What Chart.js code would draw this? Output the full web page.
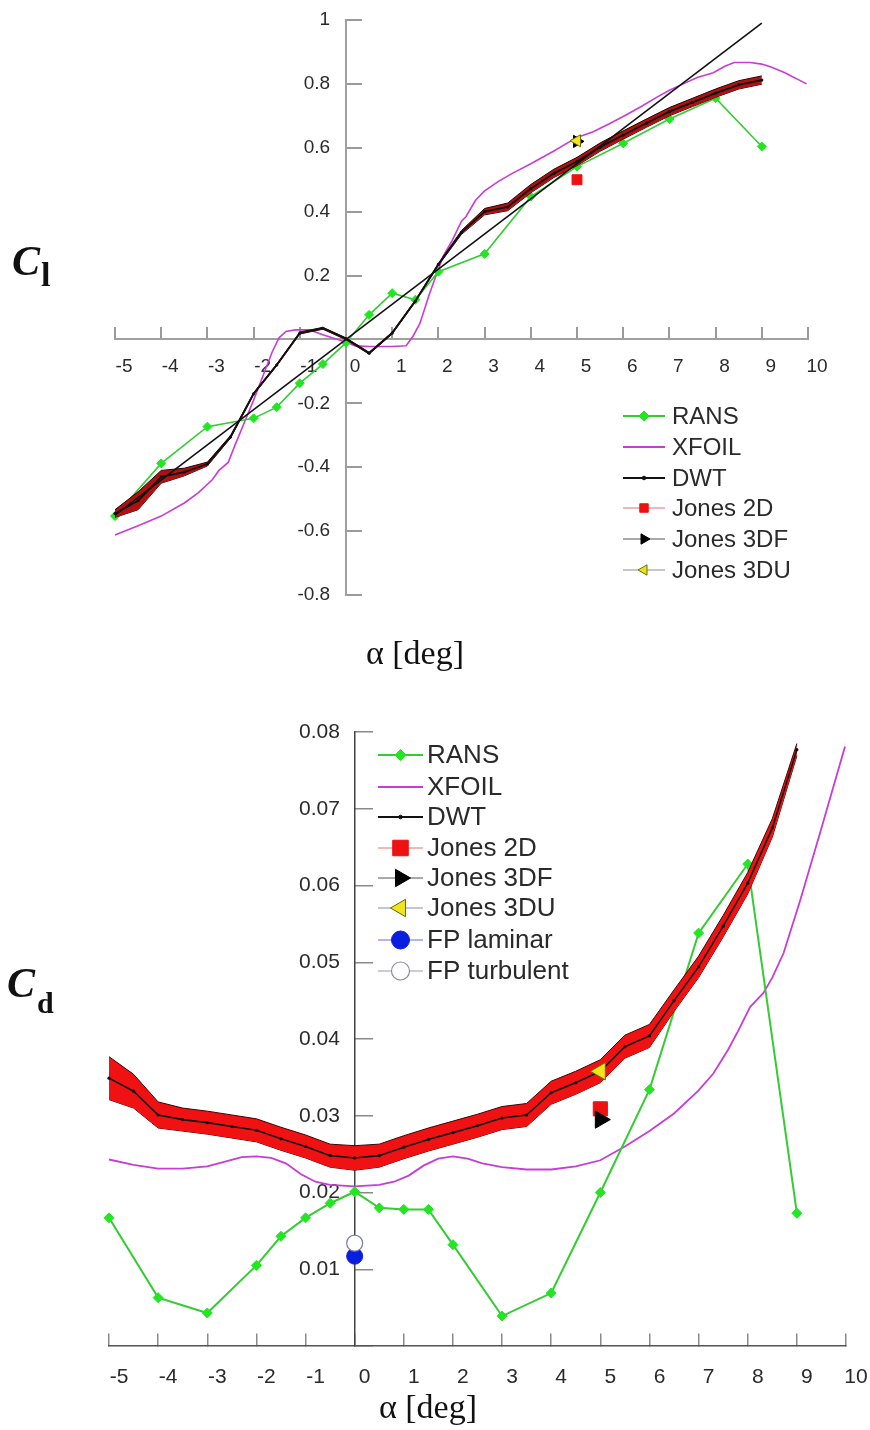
<!DOCTYPE html>
<html><head><meta charset="utf-8">
<script src="https://cdn.jsdelivr.net/npm/chart.js@4.4.1/dist/chart.umd.min.js"></script>
<style>
html,body{margin:0;padding:0;background:#fff;}
body{width:870px;height:1430px;position:relative;overflow:hidden;}
canvas{position:absolute;left:0;}
#c1{top:0;width:870px;height:690px;}
#c2{top:690px;width:900px;height:740px;}
</style></head><body>
<canvas id="c1" width="870" height="690"></canvas>
<canvas id="c2" width="900" height="740"></canvas>
<script>
// ---------------- tick values / labels ----------------
const xTicks = [-5,-4,-3,-2,-1,0,1,2,3,4,5,6,7,8,9,10];
const xTickLabels = ['-5','-4','-3','-2','-1','0','1','2','3','4','5','6','7','8','9','10'];
const clTicks = [-0.8,-0.6,-0.4,-0.2,0,0.2,0.4,0.6,0.8,1];
const clTickLabels = ['-0.8','-0.6','-0.4','-0.2','','0.2','0.4','0.6','0.8','1'];
const cdTicks = [0,0.01,0.02,0.03,0.04,0.05,0.06,0.07,0.08];
const cdTickLabels = ['','0.01','0.02','0.03','0.04','0.05','0.06','0.07','0.08'];

// ---------------- RANS ----------------
const ransAlpha = [-5,-4,-3,-2,-1.5,-1,-0.5,0,0.5,1,1.5,2,3,4,5,6,7,8,9];
const ransCl = [-0.553,-0.388,-0.273,-0.247,-0.212,-0.137,-0.077,-0.01,0.077,0.145,0.124,0.212,0.268,0.447,0.541,0.614,0.69,0.755,0.604];
const ransCd = [0.0167,0.0063,0.0043,0.0105,0.0143,0.0167,0.0186,0.0201,0.0180,0.0178,0.0178,0.0132,0.0039,0.0069,0.0200,0.0334,0.0538,0.0628,0.0173];

// ---------------- DWT (with uncertainty band) ----------------
const dwtAlpha = [-5,-4.5,-4,-3.5,-3,-2.5,-2,-1.5,-1,-0.5,0,0.5,1,1.5,2,2.5,3,3.5,4,4.5,5,5.5,6,6.5,7,7.5,8,8.5,9];
const dwtCl = [-0.545,-0.505,-0.43,-0.415,-0.39,-0.305,-0.17,-0.08,0.02,0.035,0.002,-0.043,0.02,0.12,0.235,0.335,0.40,0.415,0.472,0.52,0.557,0.602,0.64,0.677,0.713,0.742,0.771,0.797,0.812];
const dwtClErr = [0.012,0.028,0.02,0.012,0.006,0.004,0.003,0.003,0.003,0.003,0.003,0.003,0.003,0.003,0.003,0.006,0.01,0.012,0.013,0.013,0.013,0.013,0.013,0.013,0.013,0.013,0.013,0.013,0.013];
const dwtCd = [0.0349,0.0332,0.0301,0.0295,0.0291,0.0286,0.0281,0.0270,0.0260,0.0248,0.0245,0.0248,0.0259,0.0269,0.0278,0.0287,0.0297,0.0301,0.0330,0.0343,0.0358,0.0390,0.0404,0.0450,0.0494,0.0547,0.0603,0.0675,0.0777];
const dwtCdErr = [0.0028,0.0022,0.0017,0.0015,0.0015,0.0015,0.0015,0.0015,0.0015,0.0015,0.0016,0.0015,0.0015,0.0015,0.0015,0.0015,0.0015,0.0015,0.0015,0.0015,0.0015,0.0015,0.0015,0.0014,0.0014,0.0014,0.0014,0.0012,0.0008];

// ---------------- XFOIL ----------------
const xfoilClAlpha = [-5,-4.5,-4,-3.5,-3.2,-2.9,-2.75,-2.55,-2.4,-2.2,-2,-1.8,-1.6,-1.45,-1.3,-1.1,-0.8,-0.5,-0.3,0,0.2,0.5,1,1.3,1.45,1.6,1.8,1.95,2.1,2.3,2.5,2.6,2.8,3,3.3,3.6,4,4.5,4.85,5,5.35,5.7,6,6.4,6.75,7,7.3,7.6,7.95,8.2,8.4,8.75,9,9.2,9.5,9.97];
const xfoilCl = [-0.612,-0.583,-0.553,-0.512,-0.48,-0.44,-0.41,-0.385,-0.33,-0.26,-0.19,-0.115,-0.04,0.005,0.025,0.03,0.03,0.015,0.005,-0.008,-0.02,-0.022,-0.022,-0.02,0.01,0.05,0.14,0.2,0.26,0.31,0.37,0.385,0.435,0.465,0.495,0.52,0.55,0.59,0.62,0.632,0.65,0.675,0.698,0.73,0.76,0.78,0.80,0.82,0.835,0.855,0.867,0.867,0.862,0.853,0.835,0.80];
const xfoilCdAlpha = [-5,-4.5,-4,-3.5,-3,-2.6,-2.3,-2,-1.7,-1.4,-1.1,-0.8,-0.5,0,0.5,0.8,1.1,1.4,1.7,2,2.3,2.6,3,3.5,4,4.5,5,5.5,6,6.5,7,7.3,7.6,7.8,8.05,8.2,8.32,8.5,8.73,9.07,9.47,9.98];
const xfoilCd = [0.0243,0.0236,0.0231,0.0231,0.0234,0.0241,0.0246,0.0247,0.0245,0.0238,0.0224,0.0214,0.0210,0.0208,0.0210,0.0214,0.0222,0.0235,0.0244,0.0247,0.0244,0.0238,0.0233,0.0230,0.0230,0.0234,0.0242,0.0260,0.0280,0.0303,0.0333,0.0355,0.0386,0.0410,0.0442,0.0452,0.0460,0.0480,0.0512,0.0581,0.0668,0.0781];

// ---------------- thin line (no legend) ----------------
const thinAlpha = [-5, 9];
const thinCl = [-0.55, 0.99];

// ---------------- Jones / flat plate ----------------
const jonesAlpha = [5];
const jones2DCl = [0.50];
const jones3DFCl = [0.62];
const jones3DUCl = [0.622];
const jones2DCd = [0.0309];
const jones3DFCd = [0.0295];
const jones3DUCd = [0.0358];
const fpAlpha = [0];
const fpLaminarCd = [0.0117];
const fpTurbulentCd = [0.0134];

// ---------------- helpers ----------------
const pts = (xs, ys) => xs.map((x, i) => ({x: x, y: ys[i]}));
const band = (xs, ys, es, s) => xs.map((x, i) => ({x: x, y: ys[i] + s * es[i]}));

function markerPath(ctx, style, r, rot, x, y) {
  if (Chart.helpers && Chart.helpers.drawPoint) {
    Chart.helpers.drawPoint(ctx, {pointStyle: style, rotation: rot || 0, radius: r, borderWidth: ctx.lineWidth}, x, y);
    return;
  }
  ctx.beginPath(); ctx.arc(x, y, r, 0, Math.PI * 2); ctx.fill(); ctx.stroke();
}

const legendPlugin = {
  id: 'inLegend',
  afterDraw(chart, args, o) {
    const ctx = chart.ctx;
    ctx.save();
    const items = chart.data.datasets.filter(d => d.legendText);
    items.sort((a, b) => a.legendRank - b.legendRank);
    items.forEach((d, i) => {
      const y = o.rows[i];
      const L = d.legendStyle;
      ctx.strokeStyle = L.line; ctx.lineWidth = L.lw;
      ctx.beginPath(); ctx.moveTo(o.x0, y); ctx.lineTo(o.x1, y); ctx.stroke();
      if (L.marker) {
        ctx.fillStyle = L.fill; ctx.strokeStyle = L.stroke; ctx.lineWidth = L.bw;
        markerPath(ctx, L.marker, L.r, L.rot, (o.x0 + o.x1) / 2, y);
      }
      ctx.fillStyle = '#2a2a2a';
      ctx.font = o.font;
      ctx.textAlign = 'left'; ctx.textBaseline = 'middle';
      ctx.fillText(d.legendText, o.tx, y + 1);
    });
    ctx.restore();
  }
};

const textPlugin = {
  id: 'freeTexts',
  afterDraw(chart, args, o) {
    const ctx = chart.ctx;
    ctx.save();
    ctx.fillStyle = '#111';
    ctx.textBaseline = 'alphabetic';
    o.items.forEach(t => {
      ctx.font = t.font;
      ctx.textAlign = t.align || 'left';
      ctx.fillText(t.text, t.x, t.y);
    });
    ctx.restore();
  }
};

function xAxis(o) {
  return {
    type: 'linear', min: xTicks[0], max: xTicks[xTicks.length - 1],
    position: {y: 0},
    afterBuildTicks: s => { s.ticks = xTicks.map(v => ({value: v})); },
    ticks: {autoSkip: false, maxRotation: 0, minRotation: 0, labelOffset: o.labelOffset, padding: o.padding,
      color: '#2a2a2a', font: {family: "'Liberation Sans', Arial, sans-serif", size: o.font},
      callback: (v, i) => xTickLabels[i]},
    grid: {drawOnChartArea: false, drawTicks: true, tickLength: -o.tl, color: o.tickColor, lineWidth: o.tw},
    border: {display: true, color: o.axisColor, width: o.aw}
  };
}
function yAxis(ticks, labels, o) {
  return {
    type: 'linear', min: ticks[0], max: ticks[ticks.length - 1],
    position: {x: 0},
    afterBuildTicks: s => { s.ticks = ticks.map(v => ({value: v})); },
    ticks: {autoSkip: false, color: '#2a2a2a', font: {family: "'Liberation Sans', Arial, sans-serif", size: o.font},
      callback: (v, i) => labels[i] ? labels[i] + o.pad : ''},
    grid: {drawOnChartArea: false, drawTicks: true, tickLength: -o.tl, color: o.tickColor, lineWidth: o.tw},
    border: {display: true, color: o.axisColor, width: o.aw}
  };
}

const GREEN = '#33cc33', GREENM = '#22e622', MAG = '#c83cd6';

// ================= Cl chart =================
new Chart(document.getElementById('c1'), {
  type: 'line',
  data: {datasets: [
    {legendText: 'Jones 3DU', legendRank: 6, legendStyle: {line: '#8a8aa8', lw: 1, marker: 'triangle', rot: -90, r: 6, fill: '#e8e020', stroke: '#707000', bw: 1},
     data: pts(jonesAlpha, jones3DUCl), showLine: false, order: 0, clip: false,
     pointStyle: 'triangle', pointRotation: -90, pointRadius: 7, pointBackgroundColor: '#f0e41c', pointBorderColor: '#6a6a00', pointBorderWidth: 1},
    {legendText: 'Jones 3DF', legendRank: 5, legendStyle: {line: '#555', lw: 1, marker: 'triangle', rot: 90, r: 6, fill: '#000', stroke: '#000', bw: 1},
     data: pts(jonesAlpha, jones3DFCl), showLine: false, order: 1, clip: false,
     pointStyle: 'triangle', pointRotation: 90, pointRadius: 7, pointBackgroundColor: '#000', pointBorderColor: '#000', pointBorderWidth: 1},
    {legendText: 'Jones 2D', legendRank: 4, legendStyle: {line: '#e07070', lw: 1, marker: 'rect', r: 6, fill: '#ee1111', stroke: '#ee1111', bw: 1},
     data: pts(jonesAlpha, jones2DCl), showLine: false, order: 2, clip: false,
     pointStyle: 'rect', pointRadius: 7, pointBackgroundColor: '#ee1111', pointBorderColor: '#ee1111', pointBorderWidth: 1},
    {legendText: 'DWT', legendRank: 3, legendStyle: {line: '#111', lw: 2, marker: 'circle', r: 1.8, fill: '#111', stroke: '#111', bw: 1},
     data: pts(dwtAlpha, dwtCl), order: 3, clip: false, borderColor: '#111', borderWidth: 1.8, tension: 0,
     pointStyle: 'circle', pointRadius: 1.6, pointBackgroundColor: '#111', pointBorderColor: '#111', pointBorderWidth: 0, fill: false},
    {data: band(dwtAlpha, dwtCl, dwtClErr, 1), order: 4, clip: false, borderColor: '#2a0000', borderWidth: 1, pointRadius: 0,
     fill: '+1', backgroundColor: '#b01010', tension: 0},
    {data: band(dwtAlpha, dwtCl, dwtClErr, -1), order: 4, clip: false, borderColor: '#2a0000', borderWidth: 1, pointRadius: 0, fill: false, tension: 0},
    {data: pts(thinAlpha, thinCl), order: 3.5, clip: false, borderColor: '#111', borderWidth: 1.6, pointRadius: 0, fill: false},
    {legendText: 'RANS', legendRank: 1, legendStyle: {line: GREEN, lw: 2, marker: 'rectRot', r: 5, fill: GREENM, stroke: GREENM, bw: 1},
     data: pts(ransAlpha, ransCl), order: 5, clip: false, borderColor: GREEN, borderWidth: 1.6, tension: 0, fill: false,
     pointStyle: 'rectRot', pointRadius: 4.5, pointBackgroundColor: GREENM, pointBorderColor: GREENM, pointBorderWidth: 1},
    {legendText: 'XFOIL', legendRank: 2, legendStyle: {line: MAG, lw: 2},
     data: pts(xfoilClAlpha, xfoilCl), order: 7, clip: false, borderColor: MAG, borderWidth: 1.6, pointRadius: 0, tension: 0, fill: false}
  ]},
  options: {
    responsive: false, animation: false, devicePixelRatio: 1,
    layout: {padding: {left: 115, right: 62, top: 20, bottom: 95}},
    scales: {
      x: xAxis({labelOffset: 9, padding: 29, font: 19, tl: 13, tickColor: '#9a9a9a', tw: 2, axisColor: '#a0a0a0', aw: 2}),
      y: yAxis(clTicks, clTickLabels, {font: 19, pad: '   ', tl: 17, tickColor: '#9a9a9a', tw: 2, axisColor: '#a0a0a0', aw: 2})
    },
    plugins: {
      legend: {display: false}, tooltip: {enabled: false},
      inLegend: {x0: 623, x1: 665, tx: 672, rows: [416, 447, 478, 508, 539, 570], font: "24px 'Liberation Sans', Arial, sans-serif"},
      freeTexts: {items: [
        {text: 'C', font: "italic bold 42px 'Liberation Serif', serif", x: 12, y: 275},
        {text: 'l', font: "bold 34px 'Liberation Serif', serif", x: 41, y: 286},
        {text: 'α [deg]', font: "34px 'Liberation Serif', serif", x: 415, y: 664, align: 'center'}
      ]}
    }
  },
  plugins: [legendPlugin, textPlugin]
});

// ================= Cd chart =================
new Chart(document.getElementById('c2'), {
  type: 'line',
  data: {datasets: [
    {legendText: 'FP turbulent', legendRank: 8, legendStyle: {line: '#9a9ab0', lw: 1, marker: 'circle', r: 9, fill: '#fff', stroke: '#8a8aa8', bw: 1.2},
     data: pts(fpAlpha, fpTurbulentCd), showLine: false, order: 0, clip: false,
     pointStyle: 'circle', pointRadius: 8, pointBackgroundColor: '#fff', pointBorderColor: '#7a7ab0', pointBorderWidth: 1.2},
    {legendText: 'FP laminar', legendRank: 7, legendStyle: {line: '#6a6ae0', lw: 1, marker: 'circle', r: 9, fill: '#0a1ee0', stroke: '#0a1ee0', bw: 1},
     data: pts(fpAlpha, fpLaminarCd), showLine: false, order: 1, clip: false,
     pointStyle: 'circle', pointRadius: 8, pointBackgroundColor: '#0a1ee0', pointBorderColor: '#0a1ee0', pointBorderWidth: 1},
    {legendText: 'Jones 3DU', legendRank: 6, legendStyle: {line: '#8a8ab0', lw: 1, marker: 'triangle', rot: -90, r: 10, fill: '#f0e41c', stroke: '#6a6a00', bw: 1},
     data: pts(jonesAlpha, jones3DUCd), showLine: false, order: 2, clip: false,
     pointStyle: 'triangle', pointRotation: -90, pointRadius: 10, pointBackgroundColor: '#f0e41c', pointBorderColor: '#6a6a00', pointBorderWidth: 1},
    {legendText: 'Jones 3DF', legendRank: 5, legendStyle: {line: '#555', lw: 1, marker: 'triangle', rot: 90, r: 10, fill: '#000', stroke: '#000', bw: 1},
     data: pts(jonesAlpha, jones3DFCd), showLine: false, order: 3, clip: false,
     pointStyle: 'triangle', pointRotation: 90, pointRadius: 10, pointBackgroundColor: '#000', pointBorderColor: '#000', pointBorderWidth: 1},
    {legendText: 'Jones 2D', legendRank: 4, legendStyle: {line: '#e07070', lw: 1, marker: 'rect', r: 11, fill: '#ee1111', stroke: '#ee1111', bw: 1},
     data: pts(jonesAlpha, jones2DCd), showLine: false, order: 4, clip: false,
     pointStyle: 'rect', pointRadius: 10, pointBackgroundColor: '#ee1111', pointBorderColor: '#ee1111', pointBorderWidth: 1},
    {legendText: 'DWT', legendRank: 3, legendStyle: {line: '#111', lw: 2, marker: 'circle', r: 1.8, fill: '#111', stroke: '#111', bw: 1},
     data: pts(dwtAlpha, dwtCd), order: 5, clip: false, borderColor: '#111', borderWidth: 1.6, tension: 0, fill: false,
     pointStyle: 'circle', pointRadius: 1.6, pointBackgroundColor: '#111', pointBorderColor: '#111', pointBorderWidth: 0},
    {data: band(dwtAlpha, dwtCd, dwtCdErr, 1), order: 6, clip: false, borderColor: '#400', borderWidth: 1, pointRadius: 0,
     fill: '+1', backgroundColor: '#f01212', tension: 0},
    {data: band(dwtAlpha, dwtCd, dwtCdErr, -1), order: 6, clip: false, borderColor: '#400', borderWidth: 1, pointRadius: 0, fill: false, tension: 0},
    {legendText: 'RANS', legendRank: 1, legendStyle: {line: GREEN, lw: 2, marker: 'rectRot', r: 5.5, fill: GREENM, stroke: GREENM, bw: 1},
     data: pts(ransAlpha, ransCd), order: 7, clip: false, borderColor: GREEN, borderWidth: 2, tension: 0, fill: false,
     pointStyle: 'rectRot', pointRadius: 5, pointBackgroundColor: GREENM, pointBorderColor: GREENM, pointBorderWidth: 1},
    {legendText: 'XFOIL', legendRank: 2, legendStyle: {line: MAG, lw: 2},
     data: pts(xfoilCdAlpha, xfoilCd), order: 8, clip: false, borderColor: MAG, borderWidth: 1.8, pointRadius: 0, tension: 0, fill: false}
  ]},
  options: {
    responsive: false, animation: false, devicePixelRatio: 1,
    layout: {padding: {left: 109, right: 54, top: 42, bottom: 84}},
    scales: {
      x: xAxis({labelOffset: 10, padding: 32, font: 21, tl: 13, tickColor: '#8a8a8a', tw: 1.5, axisColor: '#555', aw: 1.5}),
      y: yAxis(cdTicks, cdTickLabels, {font: 21, pad: '\u2002\u2009', tl: 19, tickColor: '#8a8a8a', tw: 1.5, axisColor: '#444', aw: 1.5})
    },
    plugins: {
      legend: {display: false}, tooltip: {enabled: false},
      inLegend: {x0: 378, x1: 423, tx: 427, rows: [65, 97, 127, 158, 188, 218, 250, 281], font: "26px 'Liberation Sans', Arial, sans-serif"},
      freeTexts: {items: [
        {text: 'C', font: "italic bold 42px 'Liberation Serif', serif", x: 7, y: 307},
        {text: 'd', font: "bold 30px 'Liberation Serif', serif", x: 37, y: 323},
        {text: 'α [deg]', font: "34px 'Liberation Serif', serif", x: 428, y: 728, align: 'center'}
      ]}
    }
  },
  plugins: [legendPlugin, textPlugin]
});
</script>
</body></html>
